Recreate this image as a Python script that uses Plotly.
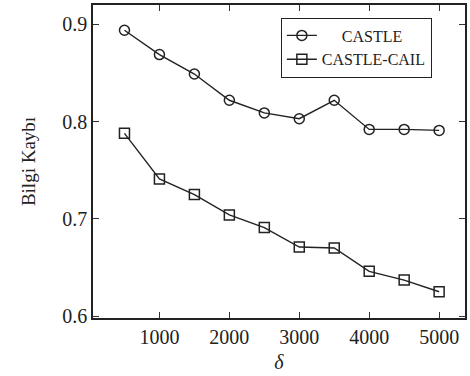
import plotly.graph_objects as go

delta = [500, 1000, 1500, 2000, 2500, 3000, 3500, 4000, 4500, 5000]
castle = [0.894, 0.869, 0.849, 0.822, 0.809, 0.803, 0.822, 0.792, 0.792, 0.791]
castle_cail = [0.788, 0.741, 0.725, 0.704, 0.691, 0.671, 0.670, 0.646, 0.637, 0.625]
x_ticks = [1000, 2000, 3000, 4000, 5000]
y_ticks = [0.6, 0.7, 0.8, 0.9]

font = "Liberation Serif"
fig = go.Figure()
fig.add_trace(go.Scatter(x=delta, y=castle, name="     CASTLE", mode="lines+markers",
                         line=dict(color="#222", width=1.4),
                         marker=dict(symbol="circle-open", size=10, color="#222", line=dict(width=1.5))))
fig.add_trace(go.Scatter(x=delta, y=castle_cail, name="CASTLE-CAIL", mode="lines+markers",
                         line=dict(color="#222", width=1.4),
                         marker=dict(symbol="square-open", size=10, color="#222", line=dict(width=1.5))))

axis_common = dict(showline=True, linecolor="#222", linewidth=1.5, mirror="ticks",
                   ticks="inside", ticklen=6, tickcolor="#333", showgrid=False, zeroline=False,
                   tickfont=dict(family=font, size=20, color="#222"))
fig.update_layout(
    width=470, height=376,
    margin=dict(l=93, r=3, t=3, b=58),
    paper_bgcolor="white", plot_bgcolor="white",
    font=dict(family=font, color="#222"),
    xaxis=dict(range=[50, 5370], tickvals=x_ticks,
               title=dict(text="<i>δ</i>", font=dict(family=font, size=20), standoff=8), **axis_common),
    yaxis=dict(range=[0.598, 0.92], tickvals=y_ticks, tickformat=".1f",
               title=dict(text="Bilgi Kaybı", font=dict(family=font, size=19), standoff=22), **axis_common),
    legend=dict(x=0.505, y=0.96, xanchor="left", yanchor="top", bordercolor="#222", borderwidth=1,
                bgcolor="white", font=dict(family=font, size=16), tracegroupgap=0),
)
fig.write_html("out.html")
